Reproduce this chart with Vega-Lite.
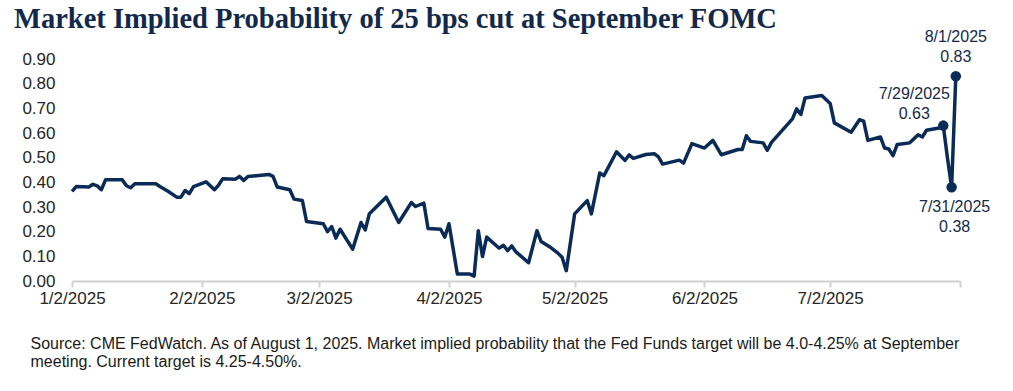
{
  "$schema": "https://vega.github.io/schema/vega-lite/v6.json",
  "width": 888,
  "height": 222,
  "autosize": "none",
  "padding": {"left": 72, "top": 59, "right": 53, "bottom": 110},
  "background": "white",
  "config": {"view": {"stroke": null}},
  "title": {
    "text": "Market Implied Probability of 25 bps cut at September FOMC",
    "anchor": "start",
    "frame": "group",
    "font": "Liberation Serif",
    "fontSize": 28.5,
    "fontWeight": "bold",
    "color": "#13294b",
    "dx": -58,
    "offset": -4
  },
  "data": {
    "values": [
      {"date": "2025-01-02", "p": 0.363},
      {"date": "2025-01-03", "p": 0.383},
      {"date": "2025-01-06", "p": 0.381},
      {"date": "2025-01-07", "p": 0.392},
      {"date": "2025-01-08", "p": 0.386},
      {"date": "2025-01-09", "p": 0.37},
      {"date": "2025-01-10", "p": 0.41},
      {"date": "2025-01-14", "p": 0.41},
      {"date": "2025-01-15", "p": 0.386},
      {"date": "2025-01-16", "p": 0.378},
      {"date": "2025-01-17", "p": 0.394},
      {"date": "2025-01-22", "p": 0.394},
      {"date": "2025-01-23", "p": 0.383},
      {"date": "2025-01-25", "p": 0.363},
      {"date": "2025-01-27", "p": 0.34},
      {"date": "2025-01-28", "p": 0.34},
      {"date": "2025-01-29", "p": 0.367},
      {"date": "2025-01-30", "p": 0.354},
      {"date": "2025-01-31", "p": 0.383},
      {"date": "2025-02-03", "p": 0.402},
      {"date": "2025-02-05", "p": 0.37},
      {"date": "2025-02-06", "p": 0.389},
      {"date": "2025-02-07", "p": 0.415},
      {"date": "2025-02-10", "p": 0.413},
      {"date": "2025-02-11", "p": 0.424},
      {"date": "2025-02-12", "p": 0.408},
      {"date": "2025-02-13", "p": 0.424},
      {"date": "2025-02-15", "p": 0.427},
      {"date": "2025-02-18", "p": 0.432},
      {"date": "2025-02-19", "p": 0.424},
      {"date": "2025-02-20", "p": 0.381},
      {"date": "2025-02-23", "p": 0.37},
      {"date": "2025-02-24", "p": 0.332},
      {"date": "2025-02-26", "p": 0.326},
      {"date": "2025-02-27", "p": 0.241},
      {"date": "2025-03-03", "p": 0.232},
      {"date": "2025-03-04", "p": 0.2},
      {"date": "2025-03-05", "p": 0.221},
      {"date": "2025-03-06", "p": 0.174},
      {"date": "2025-03-07", "p": 0.21},
      {"date": "2025-03-10", "p": 0.129},
      {"date": "2025-03-12", "p": 0.237},
      {"date": "2025-03-13", "p": 0.207},
      {"date": "2025-03-14", "p": 0.273},
      {"date": "2025-03-18", "p": 0.34},
      {"date": "2025-03-21", "p": 0.237},
      {"date": "2025-03-24", "p": 0.318},
      {"date": "2025-03-25", "p": 0.302},
      {"date": "2025-03-27", "p": 0.316},
      {"date": "2025-03-28", "p": 0.213},
      {"date": "2025-03-31", "p": 0.21},
      {"date": "2025-04-01", "p": 0.178},
      {"date": "2025-04-02", "p": 0.232},
      {"date": "2025-04-04", "p": 0.028},
      {"date": "2025-04-07", "p": 0.028},
      {"date": "2025-04-08", "p": 0.02},
      {"date": "2025-04-09", "p": 0.204},
      {"date": "2025-04-10", "p": 0.099},
      {"date": "2025-04-11", "p": 0.178},
      {"date": "2025-04-14", "p": 0.133},
      {"date": "2025-04-15", "p": 0.145},
      {"date": "2025-04-16", "p": 0.123},
      {"date": "2025-04-17", "p": 0.142},
      {"date": "2025-04-18", "p": 0.118},
      {"date": "2025-04-21", "p": 0.074},
      {"date": "2025-04-23", "p": 0.204},
      {"date": "2025-04-24", "p": 0.16},
      {"date": "2025-04-26", "p": 0.139},
      {"date": "2025-04-28", "p": 0.113},
      {"date": "2025-04-29", "p": 0.096},
      {"date": "2025-04-30", "p": 0.042},
      {"date": "2025-05-02", "p": 0.272},
      {"date": "2025-05-05", "p": 0.326},
      {"date": "2025-05-06", "p": 0.272},
      {"date": "2025-05-08", "p": 0.438},
      {"date": "2025-05-09", "p": 0.427},
      {"date": "2025-05-12", "p": 0.524},
      {"date": "2025-05-14", "p": 0.489},
      {"date": "2025-05-15", "p": 0.511},
      {"date": "2025-05-16", "p": 0.497},
      {"date": "2025-05-19", "p": 0.513},
      {"date": "2025-05-21", "p": 0.516},
      {"date": "2025-05-22", "p": 0.503},
      {"date": "2025-05-23", "p": 0.474},
      {"date": "2025-05-27", "p": 0.49},
      {"date": "2025-05-28", "p": 0.478},
      {"date": "2025-05-30", "p": 0.557},
      {"date": "2025-06-02", "p": 0.539},
      {"date": "2025-06-04", "p": 0.57},
      {"date": "2025-06-06", "p": 0.512},
      {"date": "2025-06-10", "p": 0.533},
      {"date": "2025-06-11", "p": 0.533},
      {"date": "2025-06-12", "p": 0.589},
      {"date": "2025-06-13", "p": 0.566},
      {"date": "2025-06-16", "p": 0.56},
      {"date": "2025-06-17", "p": 0.53},
      {"date": "2025-06-18", "p": 0.562},
      {"date": "2025-06-23", "p": 0.657},
      {"date": "2025-06-24", "p": 0.698},
      {"date": "2025-06-25", "p": 0.675},
      {"date": "2025-06-26", "p": 0.742},
      {"date": "2025-06-30", "p": 0.752},
      {"date": "2025-07-02", "p": 0.72},
      {"date": "2025-07-03", "p": 0.641},
      {"date": "2025-07-07", "p": 0.603},
      {"date": "2025-07-09", "p": 0.654},
      {"date": "2025-07-10", "p": 0.648},
      {"date": "2025-07-11", "p": 0.57},
      {"date": "2025-07-14", "p": 0.584},
      {"date": "2025-07-15", "p": 0.539},
      {"date": "2025-07-16", "p": 0.535},
      {"date": "2025-07-17", "p": 0.508},
      {"date": "2025-07-18", "p": 0.553},
      {"date": "2025-07-21", "p": 0.56},
      {"date": "2025-07-23", "p": 0.593},
      {"date": "2025-07-24", "p": 0.584},
      {"date": "2025-07-25", "p": 0.611},
      {"date": "2025-07-28", "p": 0.62},
      {"date": "2025-07-29", "p": 0.63, "label": "7/29/2025\n0.63"},
      {"date": "2025-07-30", "p": 0.5},
      {"date": "2025-07-31", "p": 0.38, "label": "7/31/2025\n0.38"},
      {"date": "2025-08-01", "p": 0.83, "label": "8/1/2025\n0.83"}
    ]
  },
  "encoding": {
    "x": {
      "field": "date",
      "type": "temporal",
      "scale": {
        "type": "utc",
        "domain": [
          {"year": 2025, "month": 1, "date": 2, "utc": true},
          {"year": 2025, "month": 8, "date": 2, "utc": true}
        ]
      },
      "axis": {
        "values": [
          {"year": 2025, "month": 1, "date": 2, "utc": true},
          {"year": 2025, "month": 2, "date": 2, "utc": true},
          {"year": 2025, "month": 3, "date": 2, "utc": true},
          {"year": 2025, "month": 4, "date": 2, "utc": true},
          {"year": 2025, "month": 5, "date": 2, "utc": true},
          {"year": 2025, "month": 6, "date": 2, "utc": true},
          {"year": 2025, "month": 7, "date": 2, "utc": true},
          {"year": 2025, "month": 8, "date": 2, "utc": true}
        ],
        "labelExpr": "utcmonth(datum.value) == 7 ? '' : utcFormat(datum.value, '%-m/%-d/%Y')",
        "grid": false,
        "domainColor": "#d0d0d0",
        "domainWidth": 2,
        "tickColor": "#d0d0d0",
        "tickWidth": 2,
        "tickSize": 6,
        "labelPadding": 3,
        "labelFont": "Liberation Sans",
        "labelFontSize": 17,
        "labelColor": "#262626",
        "labelFlush": false,
        "labelOverlap": false,
        "title": [
          "Source: CME FedWatch. As of August 1, 2025. Market implied probability that the Fed Funds target will be 4.0-4.25% at September",
          "meeting. Current target is 4.25-4.50%."
        ],
        "titleFont": "Liberation Sans",
        "titleFontSize": 16,
        "titleFontWeight": "normal",
        "titleColor": "#1a1a1a",
        "titleAnchor": "start",
        "titleAlign": "left",
        "titleBaseline": "alphabetic",
        "titleX": -42,
        "titleY": 67,
        "titleLineHeight": 18
      }
    },
    "y": {
      "field": "p",
      "type": "quantitative",
      "scale": {"domain": [0, 0.9], "nice": false, "zero": true},
      "axis": {
        "values": [0, 0.1, 0.2, 0.3, 0.4, 0.5, 0.6, 0.7, 0.8, 0.9],
        "format": ".2f",
        "domain": false,
        "ticks": false,
        "grid": false,
        "labelPadding": 17,
        "labelFont": "Liberation Sans",
        "labelFontSize": 17,
        "labelColor": "#262626",
        "title": null
      }
    }
  },
  "layer": [
    {
      "mark": {"type": "line", "color": "#0b2b57", "strokeWidth": 3.5, "strokeJoin": "round"}
    },
    {
      "transform": [{"filter": "isValid(datum.label)"}],
      "mark": {"type": "point", "filled": true, "opacity": 1, "color": "#0b2b57", "size": 110}
    },
    {
      "transform": [{"filter": "isValid(datum.label) && indexof(datum.label, '8/1/') === 0"}],
      "mark": {"type": "text", "lineBreak": "\n", "align": "center", "baseline": "alphabetic", "dy": -34, "font": "Liberation Sans", "fontSize": 16, "color": "#13294b", "lineHeight": 20},
      "encoding": {"text": {"field": "label"}}
    },
    {
      "transform": [{"filter": "isValid(datum.label) && indexof(datum.label, '7/29/') === 0"}],
      "mark": {"type": "text", "lineBreak": "\n", "align": "center", "baseline": "alphabetic", "dx": -29, "dy": -27, "font": "Liberation Sans", "fontSize": 16, "color": "#13294b", "lineHeight": 20},
      "encoding": {"text": {"field": "label"}}
    },
    {
      "transform": [{"filter": "isValid(datum.label) && indexof(datum.label, '7/31/') === 0"}],
      "mark": {"type": "text", "lineBreak": "\n", "align": "center", "baseline": "top", "dx": 3, "dy": 12, "font": "Liberation Sans", "fontSize": 16, "color": "#13294b", "lineHeight": 20},
      "encoding": {"text": {"field": "label"}}
    }
  ]
}
